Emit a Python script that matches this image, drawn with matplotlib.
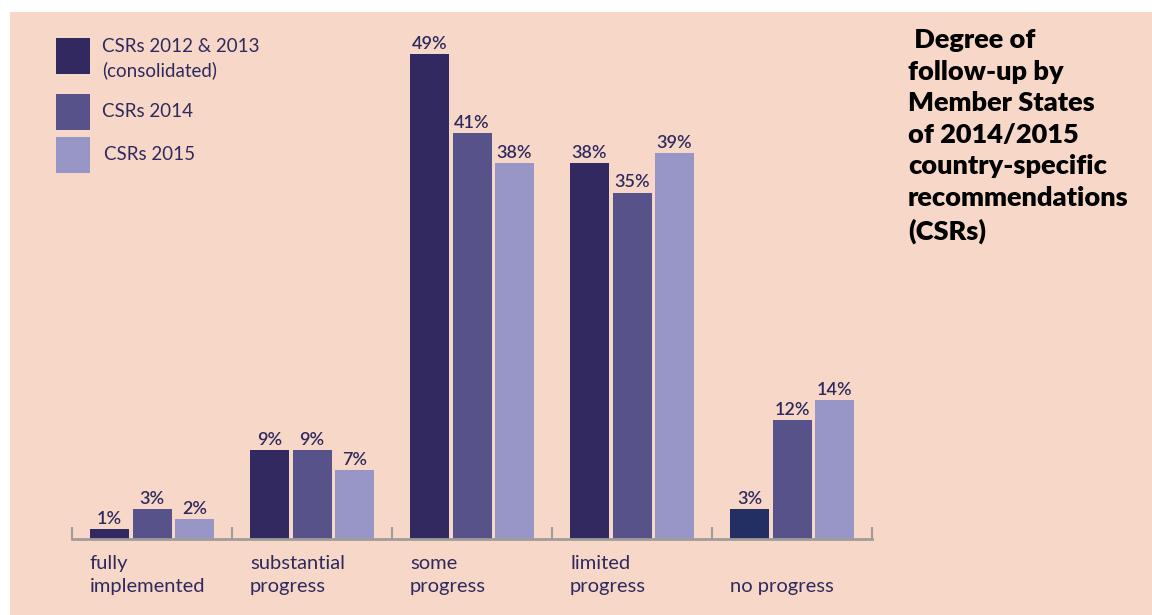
import matplotlib.pyplot as plt
import numpy as np
from matplotlib.patches import Rectangle

# dados
categorias = ['fully\nimplemented', 'substantial\nprogress', 'some\nprogress',
              'limited\nprogress', 'no progress']
series = ['CSRs 2012 & 2013\n(consolidated)', 'CSRs 2014', 'CSRs 2015']
csr_2012_2013 = [1, 9, 49, 38, 3]
csr_2014 = [3, 9, 41, 35, 12]
csr_2015 = [2, 7, 38, 39, 14]
titulo = ' Degree of\nfollow-up by\nMember States\nof 2014/2015\ncountry-specific\nrecommendations\n(CSRs)'

cores = ['#312960', '#58528A', '#9896C7']
cor_texto = '#2F2A5E'
cor_eixo = '#A09C99'
fundo = '#F7D8C8'

W, H = 1152, 615
fig = plt.figure(figsize=(W/100, H/100), dpi=100, facecolor='white')
fig.patches.append(Rectangle((10/W, 0), 1 - 10/W, (H-12)/H, transform=fig.transFigure,
                             facecolor=fundo, edgecolor='none', zorder=-10))

fonte = 'Lato'
ax = fig.add_axes([72/W, (H-539)/H, 800/W, (539-12)/H])
ax.set_facecolor('none')

x = np.arange(len(categorias))
larg = 39/160
passo = 42.5/160
valores = [csr_2012_2013, csr_2014, csr_2015]
for k, vals in enumerate(valores):
    barras = ax.bar(x + (k-1)*passo, vals, width=larg, color=cores[k], zorder=2)
    if k == 0:
        barras[-1].set_facecolor('#232F63')  # a barra 'no progress' e mais azulada
    for b, v in zip(barras, vals):
        ax.annotate('%d%%' % v, (b.get_x() + b.get_width()/2, v), xytext=(0, 1.5),
                    textcoords='offset points', ha='center', va='bottom',
                    fontsize=13, color=cor_texto, family=fonte, fontweight='semibold')

for i, cat in enumerate(categorias):
    ax.annotate(cat, (i - 0.5 + 18/160, 0), xytext=(0, -40), textcoords='offset points',
                ha='left', va='bottom', fontsize=14.5, color=cor_texto, family=fonte,
                linespacing=1.4)

ax.set_xlim(-0.5, len(categorias) - 0.5)
ax.set_ylim(0, 527/9.9)
ax.set_xticks(np.arange(len(categorias) + 1) - 0.5)
ax.tick_params(axis='x', direction='in', length=9, width=1.5, color=cor_eixo,
               labelbottom=False)
ax.set_yticks([])
for s in ['top', 'left', 'right']:
    ax.spines[s].set_visible(False)
ax.spines['bottom'].set_color(cor_eixo)
ax.spines['bottom'].set_linewidth(2)

# legenda feita a mao
quad_y = [38, 94, 137]
for k, nome in enumerate(series):
    y0 = quad_y[k]
    fig.patches.append(Rectangle((56/W, (H - y0 - 36)/H), 34/W, 36/H,
                                 transform=fig.transFigure, facecolor=cores[k],
                                 edgecolor='none'))
    ytxt = y0 + 0 if k == 0 else y0 + 9
    xtxt = 104 if k == 2 else 102
    fig.text(xtxt/W, (H - ytxt)/H, nome, ha='left', va='top', fontsize=13.5,
             color=cor_texto, family=fonte, linespacing=1.4)

fig.text(908/W, (H - 28)/H, titulo, ha='left', va='top', fontsize=19.5,
         fontweight='heavy', color='black', family=fonte, linespacing=1.38)

plt.savefig('out.png', dpi=100, facecolor=fig.get_facecolor())
